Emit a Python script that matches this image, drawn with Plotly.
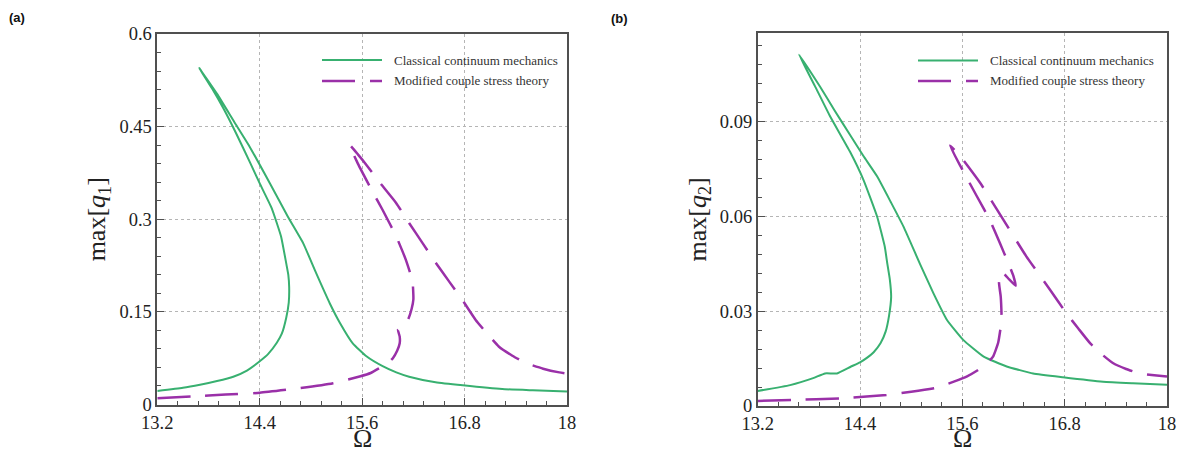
import plotly.graph_objects as go

# ---------------- data ----------------
omega_ticks = [13.2, 14.4, 15.6, 16.8, 18]
omega_ticklabels = ["13.2", "14.4", "15.6", "16.8", "18"]

q1_ticks = [0, 0.15, 0.3, 0.45, 0.6]
q1_ticklabels = ["0", "0.15", "0.3", "0.45", "0.6"]
q2_ticks = [0, 0.03, 0.06, 0.09]
q2_ticklabels = ["0", "0.03", "0.06", "0.09"]

series_names = ["Classical continuum mechanics", "Modified couple stress theory"]

# panel (a): max[q1], classical continuum mechanics
a_cl_x = [13.2, 13.5, 13.7, 13.9, 14.09, 14.25, 14.4, 14.5, 14.6, 14.66, 14.71, 14.74,
          14.745, 14.735, 14.71, 14.65, 14.54, 14.40, 14.283, 14.12, 13.98, 13.84, 13.69,
          13.9, 14.1, 14.28, 14.52, 14.73, 14.91, 15.06, 15.22, 15.34, 15.49, 15.65,
          15.84, 16.0, 16.15, 16.46, 16.78, 17.24, 17.6, 18.0]
a_cl_y = [0.022, 0.027, 0.032, 0.038, 0.045, 0.055, 0.070, 0.082, 0.100, 0.115, 0.140, 0.165,
          0.19, 0.21, 0.229, 0.272, 0.318, 0.358, 0.393, 0.440, 0.478, 0.512, 0.545,
          0.503, 0.458, 0.418, 0.358, 0.304, 0.261, 0.213, 0.164, 0.132, 0.099, 0.078,
          0.062, 0.052, 0.045, 0.036, 0.031, 0.025, 0.023, 0.021]

# panel (a): max[q1], modified couple stress theory
a_mc_x = [13.2, 13.6, 14.0, 14.4, 14.87, 15.26, 15.57, 15.70, 15.80, 15.90, 15.96, 16.01,
          16.04, 16.04, 16.02, 16.08, 16.14, 16.18, 16.20, 16.19, 16.11, 16.0, 15.84, 15.72,
          15.55, 15.45, 15.55, 15.65, 15.82, 16.0, 16.15, 16.31, 16.46, 16.62, 16.78, 16.93,
          17.07, 17.20, 17.36, 17.52, 17.72, 17.91, 18.0]
a_mc_y = [0.010, 0.013, 0.016, 0.019, 0.0264, 0.0345, 0.0453, 0.051, 0.0588, 0.067, 0.075, 0.087,
          0.0993, 0.11, 0.121, 0.126, 0.138, 0.155, 0.17, 0.20, 0.235, 0.272, 0.315, 0.345,
          0.39, 0.421, 0.405, 0.388, 0.357, 0.326, 0.294, 0.261, 0.230, 0.199, 0.168, 0.137,
          0.114, 0.094, 0.079, 0.067, 0.058, 0.052, 0.050]

# panel (b): max[q2], classical continuum mechanics
b_cl_x = [13.2, 13.58, 13.85, 13.99, 14.13, 14.29, 14.40, 14.48, 14.56, 14.64, 14.70, 14.74,
          14.765, 14.75, 14.72, 14.69, 14.60, 14.44, 14.28, 14.05, 13.87, 13.684,
          13.93, 14.1, 14.28, 14.44, 14.60, 14.76, 14.91, 15.10, 15.26, 15.42, 15.61,
          15.85, 16.12, 16.43, 16.78, 17.25, 17.6, 18.0]
b_cl_y = [0.00475, 0.0066, 0.0088, 0.0103, 0.0103, 0.0124, 0.0138, 0.0152, 0.0170, 0.0198, 0.0235, 0.0285,
          0.0345, 0.0399, 0.0450, 0.0504, 0.0599, 0.0715, 0.0805, 0.0915, 0.1012, 0.1111,
          0.101, 0.0935, 0.0858, 0.0790, 0.0726, 0.0645, 0.0567, 0.0451, 0.0357, 0.0272, 0.0209,
          0.0156, 0.0125, 0.0103, 0.0091, 0.0077, 0.0072, 0.0067]

# panel (b): max[q2], modified couple stress theory
b_mc_x = [13.2, 13.6, 14.17, 14.71, 15.0, 15.3, 15.5, 15.65, 15.78, 15.87, 15.96, 16.02,
          16.05, 16.06, 16.05, 16.03, 16.06, 16.15, 16.225, 16.20, 16.14, 16.04, 15.92, 15.77,
          15.61, 15.455, 15.56, 15.81, 16.08, 16.35, 16.63, 16.82, 16.96, 17.10, 17.25, 17.37,
          17.52, 17.68, 17.85, 18.0]
b_mc_y = [0.0016, 0.0019, 0.0024, 0.0035, 0.0045, 0.0058, 0.0077, 0.0093, 0.0113, 0.0130, 0.0156, 0.020,
          0.025, 0.0283, 0.0346, 0.0390, 0.0425, 0.040, 0.038, 0.041, 0.0451, 0.0515, 0.0589, 0.0663,
          0.0742, 0.0823, 0.0795, 0.0705, 0.0589, 0.0473, 0.0367, 0.0293, 0.0245, 0.0198, 0.016, 0.0135,
          0.0117, 0.0103, 0.0097, 0.0093]

# ---------------- styling ----------------
W, H = 1181, 454
GREEN = "#38b070"
PURPLE = "#9a30a8"
SERIF = "Liberation Serif, Times New Roman, serif"
DASH = "33px,15px"

def px_x(v):
    return v / W

def px_y(v):
    return 1 - v / H

fig = go.Figure()

line_shape = dict(shape="spline", smoothing=0.4)
fig.add_trace(go.Scatter(x=a_cl_x, y=a_cl_y, mode="lines", name=series_names[0],
                         line=dict(color=GREEN, width=2, **line_shape), xaxis="x", yaxis="y", showlegend=False))
fig.add_trace(go.Scatter(x=a_mc_x, y=a_mc_y, mode="lines", name=series_names[1],
                         line=dict(color=PURPLE, width=2.5, dash=DASH, **line_shape), xaxis="x", yaxis="y", showlegend=False))
fig.add_trace(go.Scatter(x=b_cl_x, y=b_cl_y, mode="lines", name=series_names[0],
                         line=dict(color=GREEN, width=2, **line_shape), xaxis="x2", yaxis="y2", showlegend=False))
fig.add_trace(go.Scatter(x=b_mc_x, y=b_mc_y, mode="lines", name=series_names[1],
                         line=dict(color=PURPLE, width=2.5, dash=DASH, **line_shape), xaxis="x2", yaxis="y2", showlegend=False))

common_axis = dict(
    automargin=False,
    showline=True, linecolor="#505050", linewidth=1.6, mirror=True,
    ticks="inside", ticklen=7, tickwidth=1.2, tickcolor="#505050",
    showgrid=True, gridcolor="#b5b5b5", griddash="dot", gridwidth=1,
    zeroline=False,
    tickfont=dict(family=SERIF, size=18.5, color="#222222"),
)

def xaxis_cfg(domain, anchor):
    return dict(common_axis, domain=domain, anchor=anchor, range=[13.2, 18],
                tickmode="array", tickvals=omega_ticks, ticktext=omega_ticklabels,
                minor=dict(tickmode="linear", tick0=13.2, dtick=0.24, ticks="inside",
                           ticklen=4, tickcolor="#505050", showgrid=False))

def yaxis_cfg(domain, anchor, rng, tv, tt, minor_dtick, title):
    return dict(common_axis, domain=domain, anchor=anchor, range=rng,
                tickmode="array", tickvals=tv, ticktext=tt,
                minor=dict(tickmode="linear", tick0=0, dtick=minor_dtick, ticks="inside",
                           ticklen=4, tickcolor="#505050", showgrid=False),
                title=dict(text=title, font=dict(family=SERIF, size=26, color="#222222"), standoff=6))

a_x0, a_x1, a_top, a_bot = 157.3, 567.0, 34.0, 404.5
b_x0, b_x1, b_top, b_bot = 757.7, 1167.0, 32.7, 406.0

fig.update_layout(
    width=W, height=H,
    margin=dict(l=0, r=0, t=0, b=0, autoexpand=False),
    paper_bgcolor="white", plot_bgcolor="white",
    xaxis=xaxis_cfg([px_x(a_x0), px_x(a_x1)], "y"),
    yaxis=yaxis_cfg([px_y(a_bot), px_y(a_top)], "x", [0, 0.6], q1_ticks, q1_ticklabels, 0.03,
                    "max[<i>q</i><sub>1</sub>]"),
    xaxis2=xaxis_cfg([px_x(b_x0), px_x(b_x1)], "y2"),
    yaxis2=yaxis_cfg([px_y(b_bot), px_y(b_top)], "x2", [0, 0.118], q2_ticks, q2_ticklabels, 0.006,
                     "max[<i>q</i><sub>2</sub>]"),
    showlegend=False,
)

# ---------------- legends (drawn as keys in each panel) ----------------
shapes = []
annotations = []
for lx0, ty in [(322, (60, 81)), (918, (60.5, 81))]:
    shapes.append(dict(type="line", xref="paper", yref="paper",
                       x0=px_x(lx0), x1=px_x(lx0 + 60), y0=px_y(ty[0]), y1=px_y(ty[0]),
                       line=dict(color=GREEN, width=2)))
    shapes.append(dict(type="line", xref="paper", yref="paper",
                       x0=px_x(lx0), x1=px_x(lx0 + 60), y0=px_y(ty[1]), y1=px_y(ty[1]),
                       line=dict(color=PURPLE, width=2.5, dash=DASH)))
    for name, yy in zip(series_names, ty):
        annotations.append(dict(xref="paper", yref="paper", x=px_x(lx0 + 70), y=px_y(yy),
                                xanchor="left", yanchor="middle", showarrow=False, text=name,
                                font=dict(family=SERIF, size=13, color="#333333")))

# x-axis titles (Ω) under each panel
for xr in ["x domain", "x2 domain"]:
    annotations.append(dict(xref=xr, yref="paper", x=0.5, y=px_y(455), xanchor="center",
                            yanchor="bottom", showarrow=False, text="Ω",
                            font=dict(family=SERIF, size=26, color="#222222")))

for label, lx, ly in [("(a)", 7, 18), ("(b)", 609, 19)]:
    annotations.append(dict(xref="paper", yref="paper", x=px_x(lx), y=px_y(ly),
                            xanchor="left", yanchor="middle", showarrow=False, text="<b>" + label + "</b>",
                            font=dict(family="Liberation Sans, Arial, sans-serif", size=13, color="#111111")))

fig.update_layout(shapes=shapes, annotations=annotations)

fig.write_html("out.html",
               config={"displayModeBar": False},
               post_script="document.body.style.margin='0';document.body.style.overflow='hidden';")
